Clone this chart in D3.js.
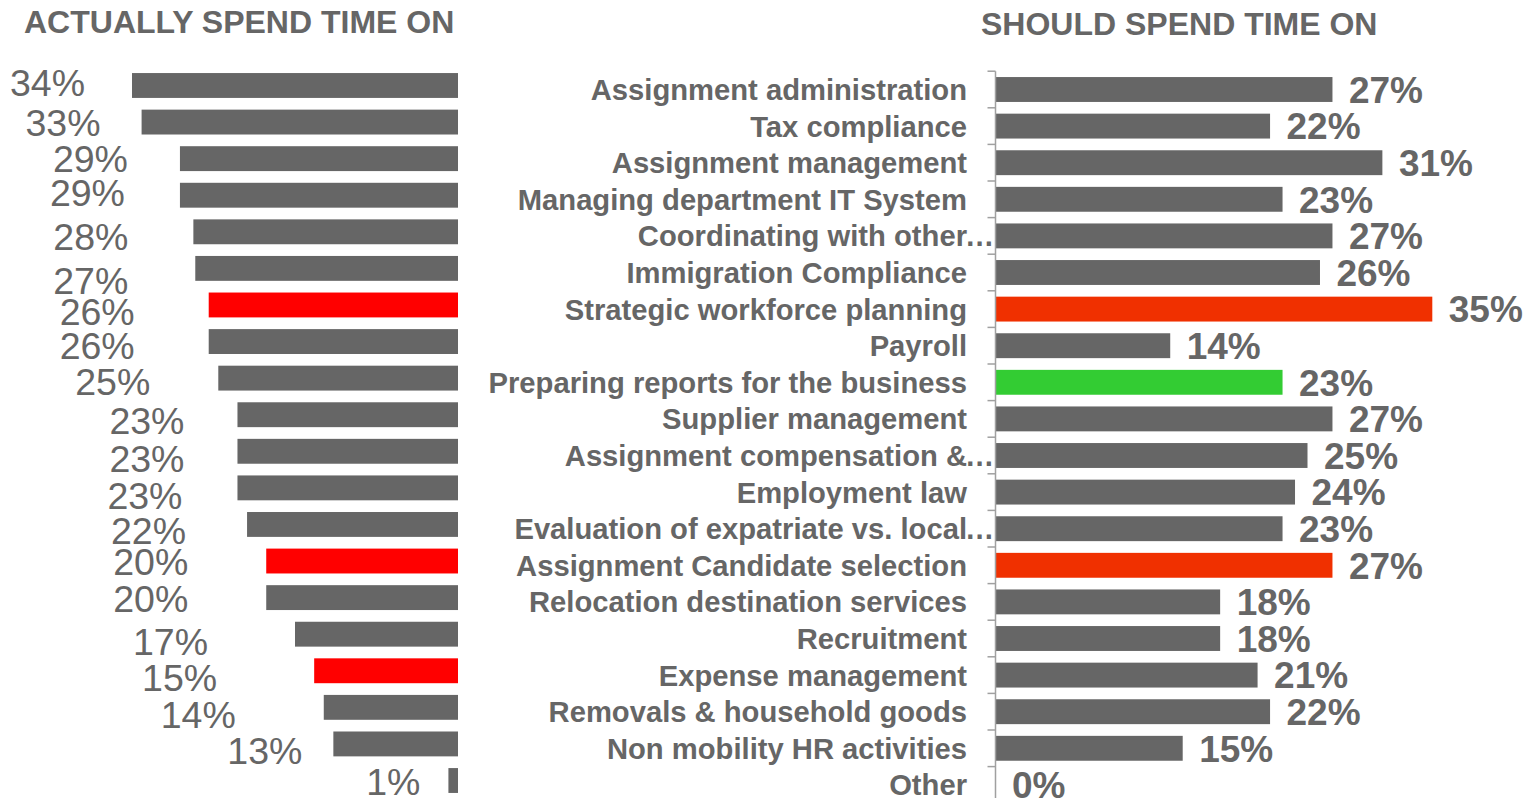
<!DOCTYPE html>
<html>
<head>
<meta charset="utf-8">
<script src="https://cdn.jsdelivr.net/npm/d3@7"></script>
<style>
  body { margin: 0; background: #fff; }
  svg { display: block; font-family: "Liberation Sans", Arial, sans-serif; }
</style>
</head>
<body>
<div id="chart"></div>
<script>
// left panel - what people actually spend time on (sorted)
var actualValues = [34, 33, 29, 29, 27.6, 27.4, 26, 26, 25, 23, 23, 23, 22, 20, 20, 17, 15, 14, 13, 1];
var actualRed = [6, 13, 16];
// hand placed labels in the original: [dx from bar end, dy from bar centre]
var actualLabelNudge = [[-47,-3],[-41,0],[-52,0],[-55,-3],[-65,5],[-67,12],[-74,7],[-74,4],[-68,3],[-53,6],
  [-53,7],[-55,8],[-61,6],[-78,0],[-78,1],[-87,7],[-97,7],[-88,7],[-31,7],[-28,1]];

// right panel - what they should spend time on
var categories = ["Assignment administration", "Tax compliance", "Assignment management",
  "Managing department IT System", "Coordinating with other\u2026", "Immigration Compliance",
  "Strategic workforce planning", "Payroll", "Preparing reports for the business",
  "Supplier management", "Assignment compensation &\u2026", "Employment law",
  "Evaluation of expatriate vs. local\u2026", "Assignment Candidate selection",
  "Relocation destination services", "Recruitment", "Expense management",
  "Removals & household goods", "Non mobility HR activities", "Other"];
var shouldValues = [27, 22, 31, 23, 27, 26, 35, 14, 23, 27, 25, 24, 23, 27, 18, 18, 21, 22, 15, 0];
var shouldHighlight = { 6: "#f03000", 8: "#33cc33", 13: "#f03000" };

var W = 1531, H = 798;
var grey = "#666666", textGrey = "#666666";

var svg = d3.select("#chart").append("svg")
  .attr("width", W)
  .attr("height", H);

// titles
svg.append("text")
  .attr("x", 24).attr("y", 33)
  .attr("font-size", "32px").attr("font-weight", "bold")
  .attr("fill", textGrey)
  .text("ACTUALLY SPEND TIME ON");
svg.append("text")
  .attr("x", 981).attr("y", 34.5)
  .attr("font-size", "32px").attr("font-weight", "bold")
  .attr("fill", textGrey)
  .text("SHOULD SPEND TIME ON");

// ---- left chart ----
var xL = d3.scaleLinear().domain([0, 34]).range([458, 132]);
var yL = d3.scaleBand().domain(d3.range(actualValues.length))
  .range([67.2, 798.8]).paddingInner(0.32).paddingOuter(0.16);

var left = svg.append("g");
left.selectAll("rect")
  .data(actualValues)
  .enter()
  .append("rect")
  .attr("x", function(d) { return xL(d); })
  .attr("y", function(d, i) { return yL(i); })
  .attr("width", function(d) { return xL(0) - xL(d); })
  .attr("height", yL.bandwidth())
  .attr("fill", function(d, i) { return actualRed.indexOf(i) != -1 ? "#ff0000" : grey; });

left.selectAll("text")
  .data(actualValues)
  .enter()
  .append("text")
  .attr("x", function(d, i) { return xL(d) + actualLabelNudge[i][0]; })
  .attr("y", function(d, i) { return yL(i) + yL.bandwidth() / 2 + actualLabelNudge[i][1]; })
  .attr("dy", "0.36em")
  .attr("text-anchor", "end")
  .attr("font-size", "37.5px")
  .attr("fill", textGrey)
  .text(function(d) { return Math.round(d) + "%"; });

// ---- right chart ----
var xR = d3.scaleLinear().domain([0, 35]).range([995.5, 1432.3]);
var yR = d3.scaleBand().domain(d3.range(categories.length))
  .range([71.2, 71.2 + 36.6 * categories.length]).paddingInner(0.32).paddingOuter(0.16);

var right = svg.append("g");
right.selectAll("rect")
  .data(shouldValues)
  .enter()
  .append("rect")
  .attr("x", xR(0) + 0.5)
  .attr("y", function(d, i) { return yR(i); })
  .attr("width", function(d) { return Math.max(0, xR(d) - xR(0) - 0.5); })
  .attr("height", yR.bandwidth())
  .attr("fill", function(d, i) { return shouldHighlight[i] || grey; });

// axis line with ticks on band boundaries
var axisX = xR(0);
right.append("line")
  .attr("x1", axisX).attr("x2", axisX)
  .attr("y1", yR.range()[0]).attr("y2", H)
  .attr("stroke", "#a0a0a0").attr("stroke-width", 1.5);
right.selectAll(".tick")
  .data(d3.range(categories.length + 1))
  .enter()
  .append("line")
  .attr("class", "tick")
  .attr("x1", axisX - 8).attr("x2", axisX)
  .attr("y1", function(i) { return yR.range()[0] + i * yR.step(); })
  .attr("y2", function(i) { return yR.range()[0] + i * yR.step(); })
  .attr("stroke", "#a0a0a0").attr("stroke-width", 1.5);

// category labels, truncated ones let the ellipsis hang past the edge
var cat = right.selectAll(".cat")
  .data(categories)
  .enter()
  .append("g")
  .attr("class", "cat")
  .attr("transform", function(d, i) { return "translate(967," + (yR(i) + yR.bandwidth() / 2) + ")"; });
cat.append("text")
  .attr("text-anchor", "end")
  .attr("dy", "0.36em")
  .attr("font-size", "29.2px").attr("font-weight", "bold")
  .attr("fill", textGrey)
  .text(function(d) { return d.replace("\u2026", ""); });
cat.filter(function(d) { return d.indexOf("\u2026") != -1; })
  .append("text")
  .attr("x", -2)
  .attr("dy", "0.36em")
  .attr("font-size", "29.2px").attr("font-weight", "bold")
  .attr("fill", textGrey)
  .text("\u2026");

right.selectAll(".val")
  .data(shouldValues)
  .enter()
  .append("text")
  .attr("class", "val")
  .attr("x", function(d) { return xR(d) + 16.5; })
  .attr("y", function(d, i) { return yR(i) + yR.bandwidth() / 2; })
  .attr("dy", "0.36em")
  .attr("font-size", "37px").attr("font-weight", "bold")
  .attr("fill", textGrey)
  .text(function(d) { return d + "%"; });
</script>
</body>
</html>
